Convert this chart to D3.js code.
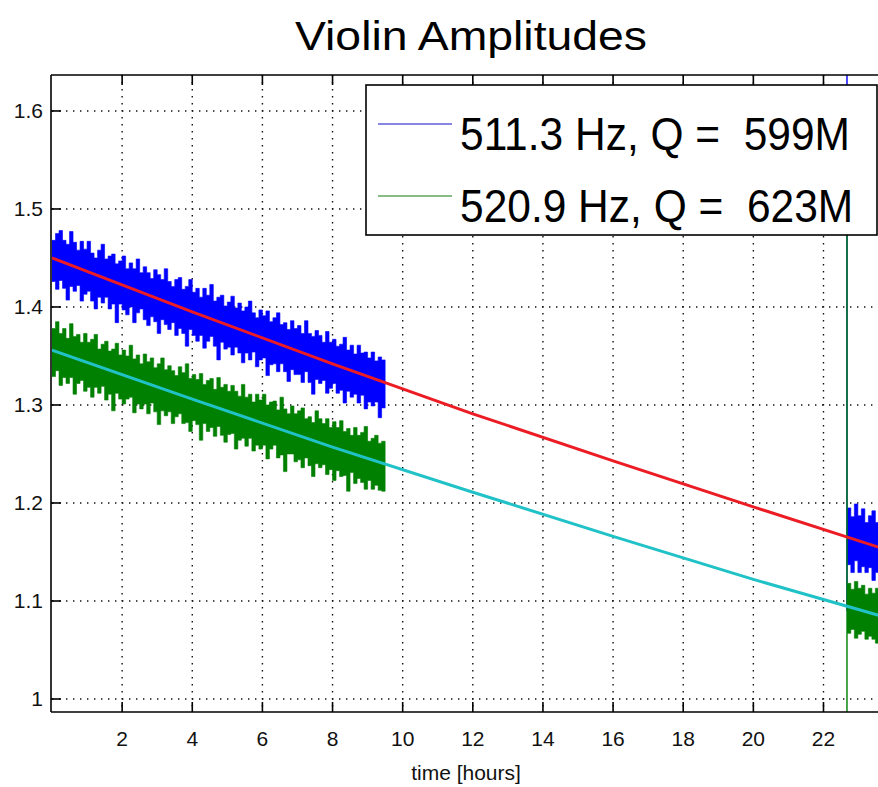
<!DOCTYPE html>
<html>
<head>
<meta charset="utf-8">
<script src="https://cdn.jsdelivr.net/npm/d3@7"></script>
<style>
  html, body { margin: 0; padding: 0; background: #fff; }
  svg { display: block; font-family: "Liberation Sans", Arial, Helvetica, sans-serif; }
</style>
</head>
<body>
<svg id="chart" width="878" height="787"></svg>
<script>
// ---- data -------------------------------------------------------------
const seriesNames = ["511.3 Hz, Q =  599M", "520.9 Hz, Q =  623M"];

// first stretch of recording: min/max per 0.1 h bin, starting at t = 0 h
const binWidth = 0.1;
const firstRunEnd = 9.5;
const blueHi1 = [1.468,1.475,1.478,1.468,1.464,1.477,1.466,1.458,1.467,1.459,
  1.467,1.455,1.450,1.458,1.464,1.449,1.452,1.454,1.444,1.447,
  1.452,1.439,1.445,1.439,1.449,1.435,1.441,1.435,1.429,1.438,
  1.433,1.428,1.439,1.426,1.421,1.428,1.430,1.418,1.421,1.428,
  1.415,1.419,1.410,1.419,1.412,1.423,1.406,1.410,1.412,1.401,
  1.405,1.411,1.399,1.404,1.396,1.400,1.406,1.394,1.389,1.397,
  1.391,1.396,1.385,1.389,1.394,1.382,1.384,1.377,1.386,1.378,
  1.381,1.373,1.386,1.373,1.370,1.376,1.371,1.364,1.375,1.364,
  1.367,1.360,1.362,1.369,1.356,1.361,1.352,1.361,1.353,1.354,
  1.348,1.354,1.345,1.349,1.346];
const blueLo1 = [1.426,1.418,1.427,1.419,1.407,1.421,1.416,1.422,1.406,1.413,
  1.416,1.406,1.398,1.410,1.404,1.410,1.398,1.403,1.384,1.403,
  1.397,1.392,1.400,1.384,1.394,1.398,1.387,1.381,1.390,1.385,
  1.373,1.387,1.382,1.377,1.384,1.371,1.378,1.373,1.360,1.377,
  1.371,1.365,1.371,1.358,1.365,1.370,1.360,1.346,1.364,1.357,
  1.359,1.351,1.359,1.353,1.343,1.353,1.346,1.354,1.339,1.346,
  1.348,1.330,1.341,1.342,1.334,1.342,1.334,1.324,1.336,1.331,
  1.331,1.323,1.334,1.323,1.311,1.326,1.322,1.325,1.312,1.317,
  1.322,1.312,1.315,1.302,1.314,1.308,1.311,1.302,1.310,1.296,
  1.303,1.299,1.303,1.287,1.297];
const greenHi1 = [1.378,1.385,1.373,1.378,1.368,1.383,1.370,1.372,1.364,1.373,
  1.364,1.367,1.372,1.357,1.362,1.365,1.355,1.357,1.363,1.351,
  1.356,1.350,1.361,1.347,1.351,1.342,1.352,1.344,1.348,1.338,
  1.342,1.348,1.336,1.340,1.335,1.330,1.339,1.333,1.342,1.327,
  1.331,1.326,1.332,1.321,1.325,1.327,1.316,1.328,1.318,1.321,
  1.314,1.320,1.314,1.309,1.321,1.308,1.311,1.303,1.311,1.305,
  1.311,1.300,1.303,1.304,1.295,1.308,1.296,1.291,1.299,1.291,
  1.294,1.297,1.286,1.288,1.282,1.294,1.286,1.281,1.286,1.277,
  1.283,1.277,1.284,1.273,1.276,1.269,1.277,1.269,1.272,1.278,
  1.263,1.266,1.269,1.261,1.263];
const greenLo1 = [1.329,1.335,1.320,1.328,1.322,1.328,1.311,1.322,1.325,1.314,
  1.318,1.308,1.318,1.312,1.319,1.305,1.311,1.294,1.312,1.306,
  1.301,1.306,1.308,1.292,1.301,1.296,1.301,1.291,1.302,1.293,
  1.280,1.294,1.289,1.293,1.281,1.288,1.291,1.281,1.282,1.273,
  1.284,1.280,1.264,1.281,1.273,1.277,1.268,1.278,1.269,1.262,
  1.270,1.271,1.255,1.264,1.266,1.258,1.266,1.253,1.259,1.255,
  1.259,1.245,1.255,1.259,1.246,1.249,1.232,1.250,1.250,1.242,
  1.244,1.236,1.246,1.238,1.227,1.240,1.236,1.239,1.229,1.234,
  1.223,1.233,1.227,1.228,1.212,1.231,1.220,1.225,1.221,1.214,
  1.223,1.214,1.218,1.213,1.212];

// second stretch: starts with the re-lock transient
const secondRunTimes = [22.66,22.68,22.78,22.88,22.98,23.08,23.18,23.28,23.38,23.48,23.58];
const secondRunEnd = 23.68;
const blueHi2  = [1.700,1.195,1.186,1.199,1.187,1.194,1.180,1.187,1.192,1.180,1.186];
const blueLo2  = [1.090,1.137,1.129,1.141,1.129,1.135,1.129,1.134,1.121,1.129,1.125];
const greenHi2 = [1.550,1.118,1.112,1.120,1.113,1.116,1.107,1.113,1.108,1.113,1.105];
const greenLo2 = [0.900,1.067,1.071,1.062,1.066,1.069,1.061,1.064,1.061,1.057,1.062];

// ring-down fits
const fitTimes = [0, 4, 8, 12, 16, 20, 24];
const redFit  = [1.450, 1.395, 1.342, 1.291, 1.243, 1.196, 1.150];
const cyanFit = [1.356, 1.306, 1.257, 1.211, 1.166, 1.122, 1.081];

const xTicks = [2, 4, 6, 8, 10, 12, 14, 16, 18, 20, 22];
const yTicks = [1, 1.1, 1.2, 1.3, 1.4, 1.5, 1.6];
const yTickLabels = ["1", "1.1", "1.2", "1.3", "1.4", "1.5", "1.6"];

// ---- layout -------------------------------------------------------------
const svg = d3.select("#chart");
const plotL = 52, plotR = 881, plotT = 75, plotB = 712;

const x = d3.scaleLinear().domain([0, 23.64]).range([plotL, plotR]);
const y = d3.scaleLinear().domain([0.98673, 1.6367]).range([plotB, plotT]);

const COLORS = { blue: "#0000ff", green: "#008000", red: "#ec1c24", cyan: "#20c2c8" };

svg.append("defs").append("clipPath").attr("id", "plotClip")
  .append("rect").attr("x", plotL).attr("y", plotT)
  .attr("width", plotR - plotL).attr("height", plotB - plotT);

// grid
const grid = svg.append("g").attr("stroke", "#111").attr("stroke-width", 1.4)
  .attr("stroke-dasharray", "1.4,5.6");
grid.selectAll("line.v").data(xTicks).join("line").attr("class", "v")
  .attr("x1", d => x(d)).attr("x2", d => x(d)).attr("y1", plotT).attr("y2", plotB);
grid.selectAll("line.h").data(yTicks).join("line").attr("class", "h")
  .attr("x1", plotL).attr("x2", plotR).attr("y1", d => y(d)).attr("y2", d => y(d));

// data
const plot = svg.append("g").attr("clip-path", "url(#plotClip)");

function bins(times, hi, lo, endT) {
  const rows = times.map((t, i) => ({ t, hi: hi[i], lo: lo[i] }));
  rows.push({ t: endT, hi: hi[hi.length - 1], lo: lo[lo.length - 1] });
  return rows;
}
const band = d3.area().curve(d3.curveStepAfter)
  .x(d => x(d.t)).y0(d => y(d.lo)).y1(d => y(d.hi));

const firstTimes = d3.range(blueHi1.length).map(i => i * binWidth);

const bands = [
  { data: bins(firstTimes, blueHi1, blueLo1, firstRunEnd), color: COLORS.blue },
  { data: bins(secondRunTimes, blueHi2, blueLo2, secondRunEnd), color: COLORS.blue },
  { data: bins(firstTimes, greenHi1, greenLo1, firstRunEnd), color: COLORS.green },
  { data: bins(secondRunTimes, greenHi2, greenLo2, secondRunEnd), color: COLORS.green }
];
plot.selectAll("path.band").data(bands).join("path")
  .attr("class", "band")
  .attr("d", d => band(d.data))
  .attr("fill", d => d.color)
  .attr("stroke", d => d.color)
  .attr("stroke-width", 0.6);

const fitLine = d3.line().x((d, i) => x(fitTimes[i])).y(d => y(d));
plot.append("path").attr("d", fitLine(redFit))
  .attr("fill", "none").attr("stroke", COLORS.red).attr("stroke-width", 3);
plot.append("path").attr("d", fitLine(cyanFit))
  .attr("fill", "none").attr("stroke", COLORS.cyan).attr("stroke-width", 3);

// axes (box with inward ticks)
const tickLen = 10;
const axes = svg.append("g").attr("stroke", "#000").attr("stroke-width", 1.6);
axes.append("line").attr("x1", plotL - 1).attr("x2", plotR).attr("y1", plotB).attr("y2", plotB);
axes.append("line").attr("x1", plotL - 1).attr("x2", plotR).attr("y1", plotT).attr("y2", plotT);
axes.append("line").attr("x1", plotL - 1).attr("x2", plotL - 1).attr("y1", plotT).attr("y2", plotB);
axes.selectAll("line.xb").data(xTicks).join("line").attr("class", "xb")
  .attr("x1", d => x(d)).attr("x2", d => x(d)).attr("y1", plotB).attr("y2", plotB - tickLen);
axes.selectAll("line.xt").data(xTicks).join("line").attr("class", "xt")
  .attr("x1", d => x(d)).attr("x2", d => x(d)).attr("y1", plotT).attr("y2", plotT + tickLen);
axes.selectAll("line.yl").data(yTicks).join("line").attr("class", "yl")
  .attr("x1", plotL - 1).attr("x2", plotL - 1 + tickLen).attr("y1", d => y(d)).attr("y2", d => y(d));

svg.append("g").attr("font-size", 21).attr("fill", "#111").attr("text-anchor", "middle")
  .selectAll("text").data(xTicks).join("text")
  .attr("x", d => x(d)).attr("y", 746).text(d => d);

svg.append("g").attr("font-size", 21).attr("fill", "#111").attr("text-anchor", "end")
  .selectAll("text").data(yTicks).join("text")
  .attr("x", 43).attr("y", d => y(d) + 7.5).text((d, i) => yTickLabels[i]);

svg.append("text").attr("x", 466).attr("y", 780).attr("text-anchor", "middle")
  .attr("font-size", 21).attr("fill", "#111").text("time [hours]");

svg.append("text").attr("x", 471).attr("y", 50).attr("text-anchor", "middle")
  .attr("font-size", 41).attr("fill", "#000")
  .attr("textLength", 352).attr("lengthAdjust", "spacingAndGlyphs")
  .text("Violin Amplitudes");

// legend
const legend = svg.append("g");
legend.append("rect").attr("x", 366).attr("y", 85).attr("width", 511).attr("height", 150)
  .attr("fill", "#fff").attr("stroke", "#000").attr("stroke-width", 1.6);
const legendRows = [
  { label: seriesNames[0], color: "#1010c8", ly: 124, ty: 150 },
  { label: seriesNames[1], color: "#107a10", ly: 196, ty: 222 }
];
const rows = legend.selectAll("g.row").data(legendRows).join("g").attr("class", "row");
rows.append("line").attr("x1", 378).attr("x2", 452)
  .attr("y1", d => d.ly).attr("y2", d => d.ly)
  .attr("stroke", d => d.color).attr("stroke-width", 1.2);
rows.append("text")
  .attr("transform", d => `translate(460,${d.ty}) scale(1,1.1)`)
  .attr("font-size", 42.5).attr("fill", "#000")
  .style("white-space", "pre")
  .text(d => d.label);
</script>
</body>
</html>
